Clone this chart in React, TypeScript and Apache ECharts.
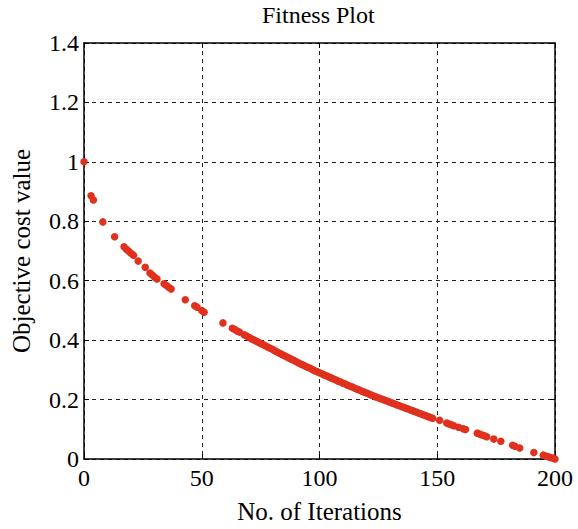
import React, { useEffect, useRef } from "react";
import * as echarts from "echarts";

const iterations: number[] = [
  0, 3, 4, 8, 13, 17, 18, 19, 20, 21, 23, 26, 28, 29, 30, 31, 34, 35, 36, 37, 43, 47, 48, 50, 51, 59, 63, 64, 65, 66, 68, 69,
  70, 71, 72, 73, 74, 75, 76, 77, 78, 79, 80, 81, 82, 83, 84, 85, 86, 87, 88, 89, 90, 91, 92, 93, 94, 95, 96, 97, 98, 99,
  100, 101, 102, 103, 104, 105, 106, 107, 108, 109, 110, 111, 112, 113, 114, 115, 116, 117, 118, 119, 120, 121, 122, 123, 124,
  125, 126, 127, 128, 129, 130, 131, 132, 133, 134, 135, 136, 137, 138, 139, 140, 141, 142, 143, 144, 145, 146, 147, 148,
  151, 154, 155, 156, 157, 159, 161, 162, 167, 168, 169, 170, 171, 174, 177, 182, 183, 185, 191, 195, 196, 197, 198, 199, 200,
];

const costValues: number[] = [
  1.0, 0.886, 0.872, 0.798, 0.748, 0.714, 0.706, 0.699, 0.692, 0.686, 0.666, 0.645, 0.626, 0.619, 0.612, 0.606, 0.59, 0.584,
  0.578, 0.572, 0.536, 0.516, 0.511, 0.5, 0.494, 0.458, 0.44, 0.436, 0.431, 0.427, 0.418, 0.414,
  0.41, 0.405, 0.401, 0.397, 0.393, 0.389, 0.385, 0.381, 0.377, 0.373, 0.369, 0.364, 0.36, 0.356, 0.352, 0.348, 0.344, 0.34,
  0.336, 0.332, 0.328, 0.324, 0.32, 0.316, 0.312, 0.309, 0.305, 0.301, 0.297, 0.294,
  0.29, 0.287, 0.283, 0.28, 0.276, 0.273, 0.269, 0.266, 0.262, 0.259, 0.255, 0.252, 0.248, 0.245, 0.242, 0.238, 0.235, 0.232,
  0.228, 0.225, 0.222, 0.219, 0.215, 0.212, 0.209,
  0.206, 0.203, 0.2, 0.197, 0.194, 0.191, 0.188, 0.185, 0.182, 0.179, 0.176, 0.173, 0.17, 0.167, 0.164, 0.161, 0.158, 0.155,
  0.152, 0.149, 0.146, 0.143, 0.14, 0.137,
  0.13, 0.121, 0.118, 0.115, 0.112, 0.107, 0.102, 0.099, 0.087, 0.084, 0.081, 0.078, 0.075, 0.067, 0.06, 0.046, 0.043, 0.037,
  0.022, 0.013, 0.01, 0.008, 0.005, 0.003, 0.0,
];

const FONT = "'Liberation Serif', 'DejaVu Serif', serif";

export default function App() {
  const ref = useRef<HTMLDivElement>(null);
  useEffect(() => {
    if (!ref.current) return;
    const chart = echarts.init(ref.current, null, { renderer: "svg" });
    const data = iterations.map((x, i) => [x, costValues[i]]);
    const gridLine = { show: true, lineStyle: { color: "#222", type: [4, 4] as any, width: 1 } };
    chart.setOption({
      animation: false,
      backgroundColor: "#fff",
      title: {
        text: "Fitness Plot",
        left: 262,
        top: 3,
        padding: 0,
        textStyle: { fontFamily: FONT, fontSize: 24, fontWeight: "normal", color: "#000" },
      },
      grid: { left: 84, right: 23, top: 43, bottom: 63 },
      xAxis: [
        {
          type: "value",
          min: 0,
          max: 200,
          interval: 50,
          name: "No. of Iterations",
          nameLocation: "middle",
          nameGap: 40,
          nameTextStyle: { fontFamily: FONT, fontSize: 25, color: "#000" },
          axisLine: { show: true, onZero: false, lineStyle: { color: "#000", width: 1.5 } },
          axisTick: { show: true, inside: true, length: 5, lineStyle: { color: "#000" } },
          axisLabel: { fontFamily: FONT, fontSize: 24, color: "#000", margin: 7 },
          splitLine: gridLine,
        },
        {
          type: "value",
          position: "top",
          min: 0,
          max: 200,
          interval: 50,
          axisLine: { show: true, onZero: false, lineStyle: { color: "#000", width: 1.5 } },
          axisTick: { show: true, inside: true, length: 5, lineStyle: { color: "#000" } },
          axisLabel: { show: false },
          splitLine: { show: false },
        },
      ],
      yAxis: [
        {
          type: "value",
          min: 0,
          max: 1.4,
          interval: 0.2,
          name: "Objective cost value",
          nameLocation: "middle",
          nameGap: 50,
          nameTextStyle: { fontFamily: FONT, fontSize: 25, color: "#000" },
          axisLine: { show: true, onZero: false, lineStyle: { color: "#000", width: 1.5 } },
          axisTick: { show: true, inside: true, length: 5, lineStyle: { color: "#000" } },
          axisLabel: { fontFamily: FONT, fontSize: 24, color: "#000", margin: 5 },
          splitLine: gridLine,
        },
        {
          type: "value",
          position: "right",
          min: 0,
          max: 1.4,
          interval: 0.2,
          axisLine: { show: true, onZero: false, lineStyle: { color: "#000", width: 1.5 } },
          axisTick: { show: true, inside: true, length: 5, lineStyle: { color: "#000" } },
          axisLabel: { show: false },
          splitLine: { show: false },
        },
      ],
      series: [
        {
          type: "scatter",
          xAxisIndex: 0,
          yAxisIndex: 0,
          data,
          symbol: "circle",
          symbolSize: 7.5,
          itemStyle: { color: "#e0301e", opacity: 1 },
          clip: false,
        },
      ],
    });
    return () => chart.dispose();
  }, []);
  return <div ref={ref} style={{ width: 578, height: 529, position: "absolute", left: 0, top: 0 }} />;
}
